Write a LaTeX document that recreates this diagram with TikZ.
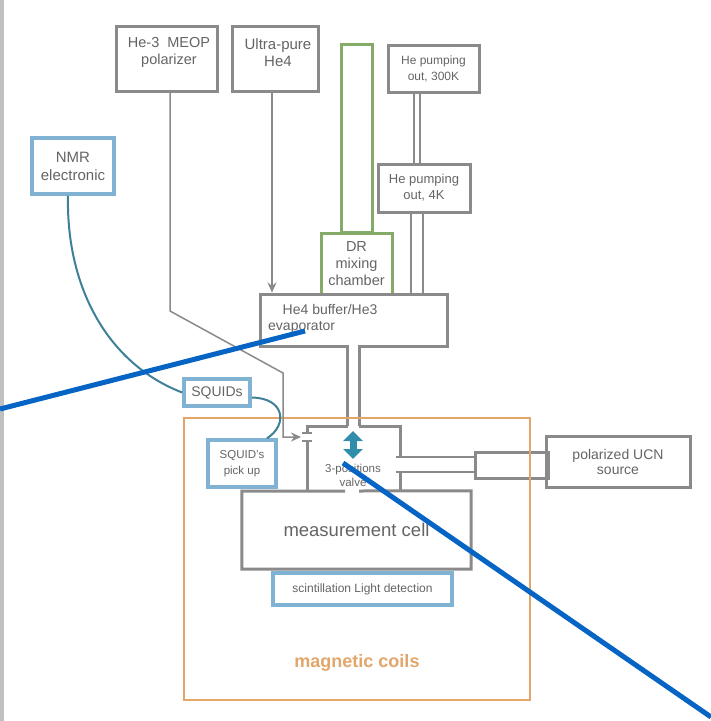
\documentclass[tikz,border=0pt]{standalone}
\usepackage{fontspec}
\setmainfont{Liberation Sans}
\usetikzlibrary{arrows.meta}

\definecolor{boxgray}{RGB}{138,138,138}
\definecolor{txtgray}{RGB}{100,100,100}
\definecolor{sqblue}{RGB}{128,178,212}
\definecolor{cabteal}{RGB}{62,128,152}
\definecolor{drgreen}{RGB}{132,172,104}
\definecolor{coilorange}{RGB}{226,166,106}
\definecolor{ptblue}{RGB}{6,100,196}
\definecolor{vlvteal}{RGB}{48,142,172}
\definecolor{stripgray}{RGB}{192,192,192}

\newcommand{\fsz}[2]{\fontsize{#1}{#2}\selectfont}

\begin{document}
\begin{tikzpicture}[x=1pt,y=-1pt]
    % Define block styles
    \tikzstyle{block} = [draw=boxgray, line width=3pt, inner sep=0pt, text=txtgray, align=center]
    \tikzstyle{sensor} = [draw=sqblue, line width=3.5pt, inner sep=0pt, text=txtgray, align=center]
    \tikzstyle{cryo} = [draw=drgreen, line width=3pt, inner sep=0pt, text=txtgray, align=center]
    \tikzstyle{hollow} = [inner sep=0pt, text=txtgray, align=center]
    \tikzstyle{lbl} = [inner sep=0pt, text=txtgray, align=center]
    \tikzstyle{wall} = [draw=boxgray, line width=3pt]
    \tikzstyle{stub} = [draw=boxgray, line width=2.5pt]
    \tikzstyle{tube} = [draw=boxgray, line width=2.5pt, double=white, double distance=9.5pt]
    \tikzstyle{thintube} = [draw=boxgray, line width=2pt, double=white, double distance=4pt]
    \tikzstyle{line} = [draw=boxgray, line width=1.5pt, -{Stealth[length=10pt,width=9pt]}]
    \tikzstyle{cable} = [draw=cabteal, line width=2pt]
    \tikzstyle{pointer} = [draw=ptblue, line width=5pt]
    \tikzstyle{vlvarrow} = [draw=vlvteal, line width=7pt, arrows={Triangle[width=19pt,length=10pt]-Triangle[width=19pt,length=10pt]}]

    \useasboundingbox (0,0) rectangle (711,721);
    \fill[stripgray] (0,0) rectangle (4,721);

    % Place nodes
    \node [block, minimum width=101pt, minimum height=65pt] (he3) at (166.5,58.5) {};
    \node [block, minimum width=86pt, minimum height=65pt] (he4) at (275,58.5) {};
    \node [cryo, minimum width=31pt, minimum height=188pt] (drtube) at (356.5,138) {};
    \node [cryo, minimum width=71pt, minimum height=61pt, font=\fsz{14.5}{17}] (drmix) at (356.5,263.5) {DR\\mixing\\chamber};
    \node [block, minimum width=91pt, minimum height=47pt, font=\fsz{12}{16}] (p300) at (433.5,68.5) {He pumping\\out, 300K};
    \node [block, minimum width=92pt, minimum height=48pt, font=\fsz{13}{16}] (p4k) at (424,188) {He pumping\\out, 4K};
    \node [block, minimum width=187pt, minimum height=52pt] (buffer) at (353.5,320) {};
    \node [hollow, minimum width=93pt, minimum height=65pt] (valve) at (353.5,458.5) {};
    \node [hollow, minimum width=229pt, minimum height=78pt, font=\fsz{18.5}{20}] (cell) at (356.5,530) {measurement cell};
    \node [sensor, minimum width=179pt, minimum height=32pt, font=\fsz{12}{14}] (scint) at (362.5,589) {scintillation Light detection};
    \node [block, minimum width=73pt, minimum height=26pt] (guide) at (511.5,465) {};
    \node [block, minimum width=144pt, minimum height=51pt, font=\fsz{14}{15}] (ucn) at (618,461.5) {polarized UCN\\source};
    \node [sensor, minimum width=82pt, minimum height=56pt, font=\fsz{15}{18}] (nmr) at (73,166) {NMR\\electronic};
    \node [sensor, minimum width=66pt, minimum height=27pt, font=\fsz{14}{16}] (squids) at (217,392.5) {SQUIDs};
    \node [sensor, minimum width=68pt, minimum height=47pt, font=\fsz{11.5}{16}] (pickup) at (242,463.5) {SQUID's\\pick up};

    % Texts placed apart from their boxes
    \node [lbl, font=\fsz{14.5}{17}] (he3txt) at (169,52.5) {He-3~~MEOP\\polarizer};
    \node [lbl, font=\fsz{15}{17}] (he4txt) at (278,52.5) {Ultra-pure\\He4};
    \node [lbl, font=\fsz{14}{16}, align=left, anchor=west] (buftxt) at (268,319) {\hspace*{14.5pt}He4 buffer/He3\\evaporator};
    \node [lbl, font=\fsz{11.5}{14}] (valvetxt) at (353,475) {3-positions\\valve};

    % Pumping lines and tubes
    \draw [thintube] ([xshift=-16.5pt]p300.south) -- ([xshift=-16.5pt]p300.south |- p4k.north);
    \draw [tube] ([xshift=-7pt]p4k.south) -- ([xshift=-7pt]p4k.south |- buffer.north);
    \draw [tube] ([yshift=3pt]buffer.south) -- (buffer.south |- valve.north);

    % Valve and cell walls
    \draw [wall] (348,426) -| (307,433);
    \draw [wall] (307,441) -- (307,491);
    \draw [wall] (400,491) -- (400,472);
    \draw [wall] (400,457) |- (359,426);
    \draw [wall] (345,491) -| (cell.south west) -| (cell.north east) -- (359,491);
    \draw [stub] (302,433) -- (312,433);
    \draw [stub] (302,441) -- (312,441);
    \draw [stub] (396,457) -- ([yshift=8pt]guide.west);
    \draw [stub] (396,472) -- ([yshift=-7pt]guide.west);
    \draw [vlvarrow] (353,431) -- (353,459);

    % Magnetic coils
    \node [draw=coilorange, line width=2.5pt, minimum width=346pt, minimum height=282pt, inner sep=0pt] (coils) at (357,559) {};
    \node [lbl, text=coilorange, font=\fsz{18}{20}\bfseries] (coilstxt) at (357,663) {magnetic coils};

    % Draw arrows
    \coordinate (vin) at (301,437);
    \path [line] ([xshift=-3pt]he4.south) -- ([xshift=-3pt]he4.south |- buffer.north);
    \path [line] ([xshift=3.5pt]he3.south) -- (170,311) -- (283,373) -- (283,437) -- (vin);

    % Readout cables
    \draw [cable] ([xshift=-5pt]nmr.south) .. controls (66,290) and (110,365) .. (squids.west);
    \draw [cable] ([yshift=-5pt]squids.east) .. controls (285,398) and (288,425) .. ([xshift=25pt]pickup.north);

    % Pointer lines
    \coordinate (ptaout) at (0,409);
    \coordinate (ptain) at (305,331);
    \coordinate (ptbin) at (343,463);
    \coordinate (ptbout) at (711,717);
    \draw [pointer] (ptaout) -- (ptain);
    \draw [pointer] (ptbin) -- (ptbout);
\end{tikzpicture}
\end{document}
